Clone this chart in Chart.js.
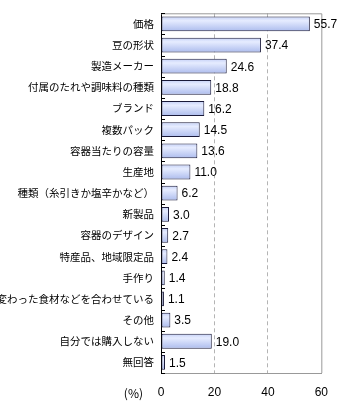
<!DOCTYPE html>
<html>
<head>
<meta charset="utf-8">
<script src="https://cdn.jsdelivr.net/npm/chart.js@4/dist/chart.umd.min.js"></script>
<style>
  html, body { margin: 0; padding: 0; background: #fff; }
  #wrap { width: 340px; height: 405px; }
</style>
</head>
<body>
<div id="wrap"><canvas id="grafico" width="340" height="405"></canvas></div>
<script>
// 購入時に重視する点（%）
const categorias = [
  "価格", "豆の形状", "製造メーカー", "付属のたれや調味料の種類", "ブランド",
  "複数パック", "容器当たりの容量", "生産地", "種類（糸引きか塩辛かなど）",
  "新製品", "容器のデザイン", "特産品、地域限定品", "手作り",
  "変わった食材などを合わせている", "その他", "自分では購入しない", "無回答"
];
const valores = [55.7, 37.4, 24.6, 18.8, 16.2, 14.5, 13.6, 11.0, 6.2, 3.0, 2.7, 2.4, 1.4, 1.1, 3.5, 19.0, 1.5];
const ticksX = [0, 20, 40, 60];

const fonteJp = '"Noto Sans CJK JP", sans-serif';
const fonteNum = '"Liberation Sans", Arial, sans-serif';

// gradiente vertical em cada barra
function corBarra(context) {
  const chart = context.chart;
  const area = chart.chartArea;
  if (!area || !chart.scales.y) return "#c4d0f8";
  const y = chart.scales.y.getPixelForValue(context.dataIndex);
  const g = chart.ctx.createLinearGradient(0, y - 8, 0, y + 8);
  g.addColorStop(0, "#c0cdf6");
  g.addColorStop(0.3, "#e6ecff");
  g.addColorStop(1, "#a9b9ec");
  return g;
}

// rótulos de valor, borda superior/direita, marcas do eixo e "(%)"
const extras = {
  id: "extras",
  afterDatasetsDraw(chart) {
    const { ctx, chartArea } = chart;
    ctx.save();

    ctx.strokeStyle = "#999";
    ctx.lineWidth = 1;
    ctx.beginPath();
    ctx.moveTo(chartArea.left, chartArea.top + 0.5);
    ctx.lineTo(chartArea.right + 0.5, chartArea.top + 0.5);
    ctx.lineTo(chartArea.right + 0.5, chartArea.bottom);
    ctx.stroke();

    // marcas entre categorias, para dentro
    ctx.strokeStyle = "#000";
    ctx.beginPath();
    const passo = (chartArea.bottom - chartArea.top) / categorias.length;
    for (let i = 0; i <= categorias.length; i++) {
      const y = Math.round(chartArea.top + i * passo) + 0.5;
      ctx.moveTo(chartArea.left, y);
      ctx.lineTo(chartArea.left + 4, y);
    }
    ctx.stroke();

    ctx.fillStyle = "#000";
    ctx.font = "12px " + fonteNum;
    ctx.textBaseline = "middle";
    ctx.textAlign = "left";
    const meta = chart.getDatasetMeta(0);
    meta.data.forEach((bar, i) => {
      const txt = valores[i].toFixed(1);
      let x = bar.x + 4;
      const w = ctx.measureText(txt).width;
      if (x + w > chart.width - 2) x = chart.width - 2 - w;
      ctx.fillText(txt, x, bar.y + 1);
    });

    ctx.font = "12px " + fonteJp;
    ctx.textAlign = "right";
    ctx.fillText("(%)", chartArea.left - 18, 393);
    ctx.restore();
  }
};

new Chart(document.getElementById("grafico").getContext("2d"), {
  type: "bar",
  data: {
    labels: categorias,
    datasets: [{
      data: valores,
      backgroundColor: corBarra,
      borderColor: "#1a1a3a",
      borderWidth: 1,
      borderSkipped: false,
      barPercentage: 0.7,
      categoryPercentage: 1
    }]
  },
  options: {
    indexAxis: "y",
    responsive: false,
    animation: false,
    devicePixelRatio: 1,
    layout: { padding: { top: 5, right: 17, left: 0, bottom: 0 } },
    plugins: { legend: { display: false }, tooltip: { enabled: false } },
    scales: {
      x: {
        min: 0,
        max: 60,
        afterBuildTicks: (axis) => { axis.ticks = ticksX.map(v => ({ value: v })); },
        afterFit: (axis) => { axis.height = 32; },
        grid: {
          color: (c) => (c.tick && (c.tick.value === 0 || c.tick.value === 60)) ? "rgba(0,0,0,0)" : "#b4b4b4",
          drawTicks: false
        },
        border: { display: true, color: "#999", dash: [4, 3] },
        ticks: { color: "#000", font: { size: 12, family: fonteNum }, padding: 12 }
      },
      y: {
        afterFit: (axis) => { axis.width = 161; },
        grid: { drawOnChartArea: false, drawTicks: false },
        border: { display: true, color: "#000" },
        ticks: { color: "#000", font: { size: 10.5, family: fonteJp }, padding: 7, autoSkip: false }
      }
    }
  },
  plugins: [extras]
});
</script>
</body>
</html>
